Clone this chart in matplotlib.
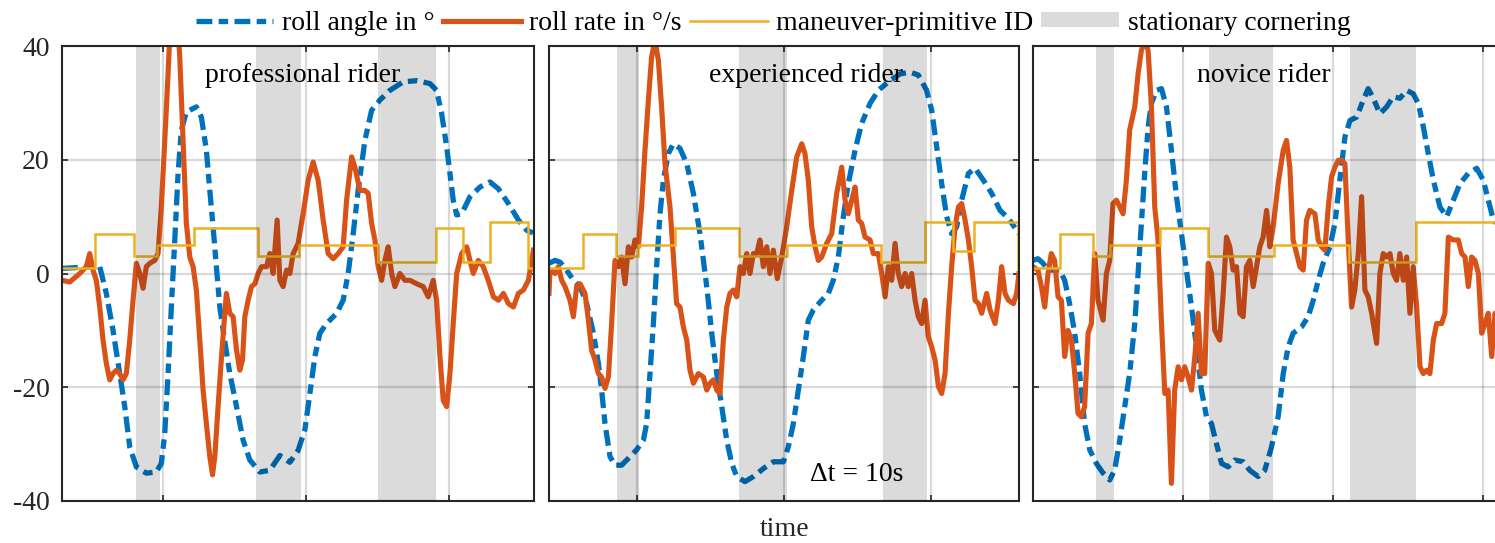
import matplotlib
matplotlib.use("Agg")

import numpy as np
import matplotlib.pyplot as plt
from matplotlib.patches import Patch
from matplotlib.lines import Line2D

plt.rcParams['font.family'] = ['Liberation Serif', 'DejaVu Serif']

BLUE = '#0072BD'
ORANGE = '#D95319'
YELLOW = '#EDB120'

# ---------------- professional rider ----------------
t_angle_pro = [0.00, 2.17, 2.64, 3.10, 3.57, 4.04, 4.39, 4.74, 5.20, 5.90, 6.60, 6.95, 7.19, 7.42,
               7.65, 7.89, 8.12, 8.35, 8.70, 9.40, 9.75, 10.10, 10.34, 10.57, 10.80, 11.04, 11.39,
               11.74, 12.21, 12.67, 13.14, 13.84, 14.54, 15.24, 15.94, 16.52, 16.99, 17.34, 17.69,
               18.04, 18.51, 19.21, 19.67, 20.02, 20.37, 20.72, 21.19, 21.66, 22.24, 22.94, 23.87,
               24.81, 25.74, 26.21, 26.56, 26.91, 27.14, 27.37, 27.61, 27.96, 28.54, 29.24, 29.94,
               30.53, 31.23, 31.93, 32.51, 33.09]
angle_pro = [0.9, 1.2, 1.2, -3.5, -10.0, -17.6, -23.4, -30.5, -34.0, -35.1, -34.9, -33.4, -28.1,
             -17.6, -5.9, 5.9, 17.6, 25.2, 28.4, 29.3, 27.5, 21.7, 14.6, 8.2, 1.2, -5.9, -12.0,
             -17.6, -23.4, -29.3, -32.8, -34.9, -34.6, -32.0, -33.2, -31.1, -27.5, -21.1, -14.6,
             -10.5, -8.8, -7.0, -4.7, 0.0, 7.0, 14.6, 23.4, 28.7, 30.5, 32.2, 33.7, 33.9, 33.4,
             32.2, 28.1, 22.3, 17.6, 12.9, 10.3, 10.5, 13.5, 15.2, 16.1, 14.9, 12.3, 9.4, 7.6, 7.0]

t_rate_pro = [0.00, 0.54, 1.24, 1.70, 1.94, 2.17, 2.40, 2.64, 2.87, 3.10, 3.34, 3.57, 3.80, 4.04,
              4.27, 4.50, 4.74, 4.97, 5.20, 5.44, 5.67, 5.90, 6.14, 6.49, 6.72, 6.95, 7.19, 7.42,
              7.65, 7.89, 8.12, 8.24, 8.47, 8.70, 8.94, 9.17, 9.40, 9.64, 9.87, 10.10, 10.34,
              10.53, 10.69, 10.92, 11.16, 11.39, 11.50, 11.74, 11.97, 12.21, 12.44, 12.63, 12.79,
              13.02, 13.26, 13.49, 13.72, 13.96, 14.31, 14.54, 14.77, 15.05, 15.24, 15.47, 15.71,
              15.94, 16.17, 16.52, 16.87, 17.22, 17.57, 17.92, 18.27, 18.62, 18.97, 19.32, 19.67,
              19.91, 20.26, 20.49, 20.84, 21.19, 21.42, 21.66, 21.89, 22.12, 22.36, 22.59, 22.82,
              23.06, 23.29, 23.64, 23.99, 24.34, 24.81, 25.27, 25.62, 25.97, 26.21, 26.44, 26.67,
              26.91, 27.14, 27.37, 27.61, 27.96, 28.31, 28.54, 28.77, 29.12, 29.47, 29.82, 30.18,
              30.53, 30.88, 31.23, 31.58, 31.93, 32.28, 32.63, 32.98]
rate_pro = [-1.2, -1.5, 0.0, 1.2, 3.5, 0.6, -1.2, -5.9, -11.7, -15.8, -18.7, -17.6, -17.0, -17.6,
            -18.7, -17.6, -11.7, -4.7, 1.8, 0.0, -2.6, 1.2, 1.8, 2.3, 3.5, 11.7, 23.4, 35.1, 48.0,
            52.0, 43.0, 38.0, 23.4, 8.8, 2.9, 1.2, -2.9, -11.7, -20.5, -26.4, -32.2, -35.4, -32.2,
            -23.4, -14.6, -7.0, -3.5, -7.0, -7.6, -13.5, -17.0, -15.2, -7.6, -4.7, -2.3, -1.8,
            0.0, 1.2, 1.2, 3.5, 0.0, 9.4, -1.2, -2.3, 0.6, 0.0, 3.5, 5.3, 10.5, 16.4, 19.6, 16.4,
            9.4, 3.5, 2.6, 3.5, 4.7, 12.9, 20.5, 18.7, 14.6, 14.6, 14.1, 8.8, 5.9, 1.2, -1.2, 2.3,
            4.7, 0.0, -2.3, 0.0, -1.2, -1.2, -1.8, -2.3, -4.1, -1.2, -4.7, -14.6, -22.3, -23.4,
            -17.6, -8.8, 0.0, 3.5, 4.7, 2.3, 0.0, 2.3, 1.2, -1.2, -4.1, -4.7, -3.5, -5.3, -5.9,
            -3.5, -2.9, -1.2, 4.1]

id_edges_pro = [0.00, 2.33, 5.04, 6.65, 9.22, 13.68, 16.59, 22.12, 26.14, 28.03, 29.94, 32.63, 33.02]
id_pro = [1, 7, 3, 5, 8, 3, 5, 2, 8, 2, 9, 1]
stationary_pro = [(5.16, 6.84), (13.56, 16.69), (22.12, 26.16)]

# ---------------- experienced rider ----------------
t_angle_exp = [0.00, 0.41, 0.75, 1.20, 1.66, 2.11, 2.56, 3.02, 3.36, 3.58, 3.81, 4.15, 4.49, 4.94,
               5.40, 5.96, 6.42, 6.64, 6.87, 7.10, 7.32, 7.55, 7.78, 8.12, 8.46, 8.91, 9.37, 9.82,
               10.27, 10.73, 11.07, 11.41, 11.75, 12.09, 12.43, 12.77, 13.33, 13.90, 14.58, 15.26,
               15.94, 16.28, 16.62, 16.96, 17.30, 17.64, 17.98, 18.55, 19.00, 19.34, 19.68, 20.02,
               20.36, 20.82, 21.27, 21.84, 22.40, 23.08, 23.88, 24.56, 25.12, 25.69, 26.03, 26.37,
               26.71, 27.05, 27.39, 27.73, 28.07, 28.53, 28.98, 29.55, 30.11, 30.68, 31.25, 31.97]
angle_exp = [1.8, 2.3, 2.0, 0.6, -1.2, -2.3, -5.3, -10.5, -15.8, -20.5, -26.4, -32.2, -33.7, -33.7,
             -32.5, -31.0, -29.3, -26.4, -17.6, -8.8, 1.2, 10.5, 16.4, 21.1, 22.8, 22.0, 19.3, 14.1,
             7.0, -2.3, -10.5, -17.6, -23.4, -29.3, -33.4, -35.7, -36.6, -35.7, -34.3, -33.1,
             -33.1, -30.5, -26.4, -20.5, -14.6, -8.2, -6.4, -4.7, -3.5, -1.2, 2.9, 10.0, 15.8,
             21.7, 26.4, 29.9, 32.2, 33.7, 35.1, 35.4, 34.9, 32.2, 28.7, 22.3, 15.8, 10.0, 7.0,
             8.2, 12.9, 17.6, 18.5, 16.4, 14.1, 11.1, 9.7, 7.0]

t_rate_exp = [0.00, 0.07, 0.41, 0.63, 0.86, 1.09, 1.43, 1.66, 1.88, 2.11, 2.45, 2.68, 2.90, 3.13,
              3.36, 3.58, 3.81, 4.04, 4.26, 4.49, 4.72, 4.94, 5.17, 5.40, 5.62, 5.85, 6.08, 6.30,
              6.53, 6.76, 6.98, 7.21, 7.44, 7.66, 7.89, 8.23, 8.46, 8.68, 8.91, 9.14, 9.37, 9.59,
              9.82, 10.16, 10.50, 10.73, 10.95, 11.18, 11.41, 11.63, 11.86, 12.09, 12.31, 12.54,
              12.77, 12.99, 13.22, 13.45, 13.67, 13.90, 14.13, 14.35, 14.58, 14.81, 15.03, 15.26,
              15.53, 15.83, 16.17, 16.51, 16.85, 17.19, 17.41, 17.64, 17.87, 18.10, 18.32, 18.55,
              18.89, 19.23, 19.57, 19.91, 20.14, 20.36, 20.59, 20.82, 21.04, 21.27, 21.50, 21.84,
              22.06, 22.40, 22.63, 22.86, 23.08, 23.31, 23.54, 23.76, 23.99, 24.22, 24.44, 24.67,
              24.90, 25.12, 25.35, 25.58, 25.80, 26.03, 26.26, 26.49, 26.71, 26.94, 27.17, 27.39,
              27.62, 27.85, 28.07, 28.30, 28.53, 28.75, 28.98, 29.21, 29.43, 29.77, 30.00, 30.34,
              30.57, 30.79, 31.02, 31.25, 31.59, 31.81, 31.97]
rate_exp = [-3.5, 0.6, 0.0, 1.2, -1.2, -2.3, -4.7, -7.6, -2.3, -1.8, -3.5, -8.2, -13.5, -15.2,
            -17.6, -18.2, -20.2, -18.2, -8.8, 2.3, 1.2, 2.9, -1.8, 4.7, 2.9, 5.9, 4.7, 11.7, 21.7,
            30.5, 38.1, 41.0, 37.5, 29.3, 19.3, 11.7, 2.9, -5.3, -5.9, -9.4, -11.7, -17.0, -19.3,
            -17.6, -18.2, -20.5, -19.3, -18.7, -20.5, -21.1, -11.7, -5.9, -3.5, -2.9, -4.1, 1.2,
            0.0, 3.5, 0.0, 3.5, 3.5, 5.9, 1.2, 4.7, 0.0, 4.1, -0.9, 2.9, 8.2, 14.6, 20.5, 22.8,
            21.1, 16.4, 8.2, 4.7, 2.3, 2.9, 5.3, 7.0, 14.1, 18.7, 12.9, 10.5, 12.9, 15.2, 9.4,
            8.8, 6.4, 5.9, 3.5, 3.5, 0.0, -4.1, 1.2, -1.2, 5.3, 0.0, -2.3, 0.0, -2.3, 0.0, -4.7,
            -7.6, -8.8, -4.7, -11.1, -12.9, -15.2, -19.9, -21.1, -17.6, -7.0, 1.2, 8.2, 11.7,
            12.3, 9.4, 5.9, 1.2, -4.7, -5.3, -7.0, -3.5, -6.4, -8.8, -4.7, 1.2, -3.5, -4.7, -5.3,
            -3.5, 0.0]

id_edges_exp = [0.00, 2.29, 4.56, 6.08, 8.57, 12.95, 16.17, 22.56, 25.58, 27.51, 28.91, 31.88, 31.97]
id_exp = [1, 7, 3, 5, 8, 3, 5, 2, 9, 4, 9, 1]
stationary_exp = [(4.65, 6.12), (12.95, 16.21), (22.74, 25.74)]

# ---------------- novice rider ----------------
t_angle_nov = [0.00, 0.33, 0.67, 1.00, 1.33, 1.78, 2.11, 2.44, 2.78, 3.11, 3.44, 3.78, 4.22, 4.67,
               5.11, 5.44, 5.78, 6.11, 6.44, 6.78, 7.00, 7.22, 7.44, 7.67, 7.89, 8.22, 8.56, 8.89,
               9.22, 9.56, 9.89, 10.22, 10.56, 10.89, 11.22, 11.56, 11.89, 12.22, 12.56, 13.00,
               13.44, 14.00, 14.44, 15.00, 15.44, 15.89, 16.33, 16.67, 17.00, 17.33, 17.89, 18.33,
               18.67, 19.00, 19.33, 19.78, 20.11, 20.44, 20.78, 21.11, 21.56, 22.00, 22.33, 22.67,
               23.11, 23.56, 24.00, 24.44, 24.89, 25.33, 25.67, 26.00, 26.33, 26.67, 27.11, 27.56,
               28.00, 28.44, 29.00, 29.56, 30.00, 30.33, 30.67, 31.31]
angle_nov = [2.3, 2.6, 1.8, 0.6, 0.6, 0.6, -1.2, -5.3, -10.5, -17.6, -26.4, -31.0, -33.4, -35.1,
             -36.3, -34.6, -29.3, -23.4, -17.6, -8.8, 0.0, 8.8, 17.6, 25.8, 29.9, 32.2, 32.5, 29.3,
             21.7, 13.5, 7.0, 0.6, -5.9, -12.9, -20.5, -25.2, -26.4, -29.9, -33.4, -34.0, -32.8,
             -33.1, -34.6, -35.7, -34.6, -30.5, -25.2, -17.6, -12.9, -10.5, -9.4, -7.6, -4.7,
             -1.2, 1.8, 4.7, 8.8, 16.4, 24.0, 26.9, 27.5, 30.5, 32.5, 30.8, 28.1, 29.3, 31.1, 30.8,
             32.2, 31.6, 29.9, 25.8, 21.1, 16.4, 11.7, 10.0, 12.9, 15.8, 17.6, 18.5, 16.4, 12.9,
             9.4, 7.5]

t_rate_nov = [0.00, 0.33, 0.56, 0.78, 1.00, 1.22, 1.44, 1.67, 1.89, 2.11, 2.33, 2.56, 2.78, 3.00,
              3.22, 3.44, 3.67, 3.89, 4.11, 4.33, 4.67, 4.89, 5.11, 5.33, 5.56, 5.78, 6.00, 6.22,
              6.44, 6.78, 7.00, 7.22, 7.44, 7.67, 7.89, 8.11, 8.33, 8.56, 8.78, 9.00, 9.22, 9.44,
              9.67, 9.89, 10.11, 10.33, 10.56, 10.78, 11.00, 11.22, 11.44, 11.67, 11.89, 12.11,
              12.44, 12.67, 12.89, 13.11, 13.33, 13.56, 13.78, 14.00, 14.22, 14.44, 14.67, 14.89,
              15.11, 15.33, 15.56, 15.78, 16.00, 16.33, 16.67, 16.89, 17.11, 17.33, 17.56, 17.78,
              18.00, 18.22, 18.44, 18.78, 19.00, 19.22, 19.44, 19.67, 19.89, 20.11, 20.33, 20.56,
              20.78, 21.00, 21.22, 21.44, 21.67, 21.89, 22.11, 22.33, 22.56, 22.89, 23.11, 23.33,
              23.56, 23.78, 24.00, 24.22, 24.44, 24.67, 24.89, 25.11, 25.33, 25.56, 25.78, 26.00,
              26.22, 26.44, 26.67, 26.89, 27.22, 27.44, 27.67, 28.00, 28.33, 28.56, 28.78, 29.00,
              29.22, 29.44, 29.67, 29.89, 30.11, 30.33, 30.56, 30.78, 31.31]
rate_nov = [1.2, 0.6, -2.3, -5.9, 0.0, 3.5, 2.3, -4.1, -4.7, -14.6, -10.0, -11.7, -17.6, -24.6,
            -25.2, -23.4, -10.5, -8.8, 3.5, -4.7, -8.2, 0.0, 2.3, 12.3, 12.9, 11.7, 10.5, 16.4,
            25.2, 29.3, 35.1, 39.2, 41.0, 39.2, 29.3, 11.7, 5.9, -8.8, -21.1, -20.5, -36.9, -20.5,
            -16.4, -18.7, -16.4, -18.2, -20.5, -14.6, -7.0, -17.6, -17.6, 1.8, 0.0, -10.0, -11.7,
            -3.5, 6.4, 4.7, 0.6, 1.2, -7.0, -7.6, 1.2, 2.3, -2.3, 1.2, 4.7, 6.4, 11.1, 4.7, 8.2,
            15.8, 21.7, 23.4, 18.7, 5.9, 3.5, 1.2, 0.6, 9.4, 11.1, 10.5, 5.9, 4.7, 4.1, 11.7, 17.0,
            18.7, 19.9, 19.9, 19.3, 5.9, -5.9, -2.9, 3.5, 13.5, -2.9, -4.1, -7.0, -12.3, 0.0, 3.5,
            2.9, 3.5, 0.0, -1.2, 3.5, -1.2, 2.9, -7.0, 1.2, -5.9, -16.4, -17.6, -17.0, -17.6,
            -11.7, -8.8, -8.8, -7.0, 6.4, 5.9, 5.9, 3.5, 2.9, -2.3, 2.9, 2.3, 0.0, -10.5, -8.8,
            -7.0, -14.6, -7.0, -14.0]

id_edges_nov = [0.00, 1.78, 4.00, 5.11, 8.44, 11.67, 16.04, 21.07, 25.51, 31.31]
id_nov = [1, 7, 3, 5, 8, 3, 5, 2, 9]
stationary_nov = [(4.18, 5.38), (11.71, 15.96), (21.11, 25.51)]

# time of the first grid line in each panel, grid spacing is 10 s
grid_start = [7.07, 5.96, 10.0]
riders = ['professional rider', 'experienced rider', 'novice rider']
label_pos = [(16.8, 34.9), (17.5, 34.9), (15.4, 34.9)]

panels = [
    (t_angle_pro, angle_pro, t_rate_pro, rate_pro, id_edges_pro, id_pro, stationary_pro),
    (t_angle_exp, angle_exp, t_rate_exp, rate_exp, id_edges_exp, id_exp, stationary_exp),
    (t_angle_nov, angle_nov, t_rate_nov, rate_nov, id_edges_nov, id_nov, stationary_nov),
]

FS = 20
W, H = 1495, 543
fig = plt.figure(figsize=(W / 100, H / 100), dpi=100)
ax_rects = [(62, 472), (549, 470), (1033, 470)]

angle_dash = (0, (3.0, 1.2, 1.8, 1.2))

for i, (ta, ang, tr, rate, edges, ids, spans) in enumerate(panels):
    left, width = ax_rects[i]
    ax = fig.add_axes([left / W, 42 / H, width / W, 455 / H])
    ax.set_axisbelow('line')

    ax.plot(ta, ang, color=BLUE, lw=3.8, linestyle=angle_dash, dash_capstyle='butt', zorder=2)
    ax.plot(tr, rate, color=ORANGE, lw=3.7, solid_joinstyle='round', zorder=2.1)
    ax.stairs(ids, edges, baseline=None, color=YELLOW, lw=1.8, zorder=2.2)

    for a, b in spans:
        ax.axvspan(a, b, color='black', alpha=0.14, lw=0, zorder=3)

    ax.set_xlim(edges[0], edges[-1])
    ax.set_ylim(-40, 40)
    ax.set_xticks(np.arange(grid_start[i], edges[-1], 10))
    ax.set_yticks([-40, -20, 0, 20, 40])
    ax.grid(True, color='black', alpha=0.15, lw=1.6)
    ax.tick_params(direction='in', top=True, right=True, length=4, width=1.2,
                   color='#262626', labelbottom=False)
    if i == 0:
        ax.set_yticklabels(['-40', '-20', '0', '20', '40'])
        ax.tick_params(axis='y', labelsize=FS, labelcolor='#262626', pad=9)
    else:
        ax.tick_params(axis='y', labelleft=False)
    for s in ax.spines.values():
        s.set_color('#262626')
        s.set_linewidth(1.5)

    x, y = label_pos[i]
    ax.text(x, y, riders[i], ha='center', va='center', fontsize=FS, zorder=5)
    if i == 1:
        ax.text(20.9, -35.4, 'Δt = 10s', ha='center', va='center', fontsize=FS, zorder=5)

handles = [
    Line2D([], [], color=BLUE, lw=3.8, linestyle=angle_dash, dash_capstyle='butt'),
    Line2D([], [], color=ORANGE, lw=3.7),
    Line2D([], [], color=YELLOW, lw=1.8),
    Patch(facecolor='black', alpha=0.14, lw=0),
]
labels = ['roll angle in °', 'roll rate in °/s', 'maneuver-primitive ID', 'stationary cornering']
fig.legend(handles, labels, loc='center', bbox_to_anchor=(773 / W, 1 - 23 / H), ncol=4,
           frameon=False, fontsize=FS, handlelength=2.8, handletextpad=0.3,
           columnspacing=0.3, handleheight=0.45)

fig.text(785 / W, 13 / H, 'time', ha='center', va='center', fontsize=FS, color='#262626')

fig.savefig('out.png', dpi=100)
